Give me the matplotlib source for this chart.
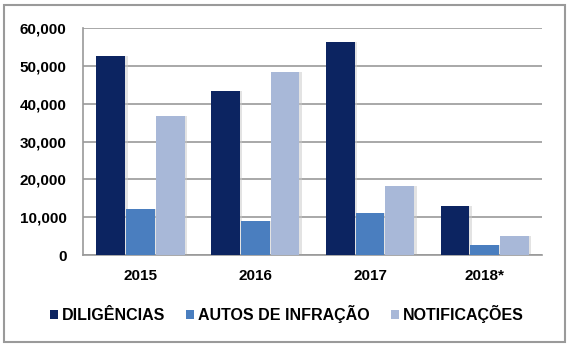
import numpy as np
import matplotlib.pyplot as plt
from matplotlib.patches import Rectangle

plt.rcParams['font.family'] = ['Liberation Sans', 'DejaVu Sans']

anos = ['2015', '2016', '2017', '2018*']
diligencias = [52600, 43400, 56300, 13000]
autos = [12200, 9000, 11100, 2700]
notificacoes = [36800, 48400, 18300, 5000]

series = ['DILIGÊNCIAS', 'AUTOS DE INFRAÇÃO', 'NOTIFICAÇÕES']
cores = ['#0c2461', '#4a7ebf', '#a8b8d8']

fig = plt.figure(figsize=(5.7, 3.47), dpi=100)
ax = fig.add_axes([0.146, 0.265, 0.805, 0.654])

# moldura cinza em volta do grafico
fig.patches.append(Rectangle((0.007, 0.014), 0.985, 0.972, transform=fig.transFigure,
                             fill=False, edgecolor='#9a9a9a', linewidth=1.5))

x = np.arange(len(anos))
w = 0.26
for i, (vals, nome) in enumerate(zip([diligencias, autos, notificacoes], series)):
    # sombra leve a direita das barras
    ax.bar(x + (i - 1) * w + 0.022, vals, width=w - 0.01, color='#c8c8c8', alpha=0.5, zorder=2)
    ax.bar(x + (i - 1) * w, vals, width=w - 0.01, color=cores[i], label=nome, zorder=3)

ax.set_xlim(-0.5, 3.5)
ax.set_ylim(0, 60000)
ax.set_yticks(range(0, 60001, 10000))
ax.yaxis.set_major_formatter(plt.FuncFormatter(lambda v, p: f'{int(v):,}'))
ax.set_xticks(x)
ax.set_xticklabels(anos)
ax.grid(axis='y', color='#999999', linewidth=1.2, zorder=0)
for s in ['top', 'right']:
    ax.spines[s].set_visible(False)
for s in ['left', 'bottom']:
    ax.spines[s].set_color('#999999')
    ax.spines[s].set_linewidth(1.2)
ax.tick_params(length=0, labelsize=11)
ax.tick_params(axis='y', pad=12)
ax.tick_params(axis='x', pad=10)
for t in ax.get_xticklabels() + ax.get_yticklabels():
    t.set_fontweight('bold')

fig.legend(loc='center', bbox_to_anchor=(0.503, 0.095), ncol=3, frameon=False,
           handlelength=0.5, handleheight=0.5, handletextpad=0.25, columnspacing=1.3,
           prop={'weight': 'bold', 'size': 11.5})

fig.savefig('out.png', dpi=100)
